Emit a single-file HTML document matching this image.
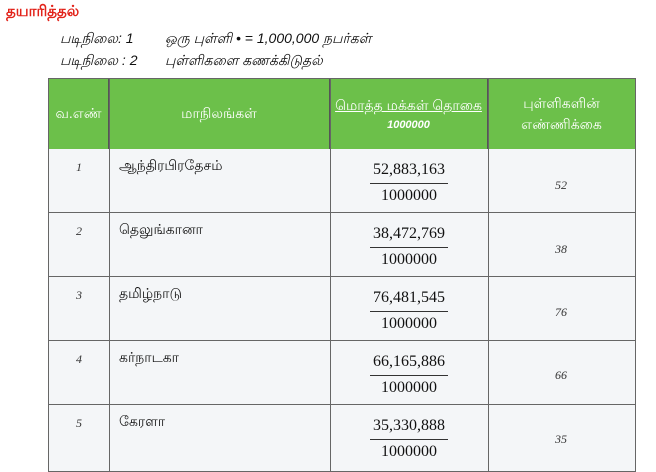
<!DOCTYPE html>
<html><head><meta charset="utf-8"><style>
body{margin:0;width:656px;height:472px;background:#fff;position:relative;font-family:"Liberation Sans","Noto Sans CJK SC",sans-serif;overflow:hidden}
.a{position:absolute;white-space:nowrap}
.hd{position:absolute;top:79px;height:70px;background:#6cc04a;color:#fff;font-size:14px;display:flex;align-items:center;justify-content:center;text-align:center;border-right:1px solid #555;box-sizing:border-box}
.row{position:absolute;left:48px;width:588px;height:64px;background:#f4f6f8;border-bottom:1px solid #666;box-sizing:border-box}
.v{position:absolute;top:0;bottom:0;width:1px;background:#666}
.n{font-family:"Liberation Serif",serif;font-style:italic;font-size:12px;color:#333}
.f{font-family:"Liberation Serif",serif;font-size:16px;color:#111;text-align:center;width:90px}
.s{font-size:14px;color:#111}
</style></head><body>
<div class="a" style="left:6px;top:3px;color:#e2231a;font-weight:bold;font-size:15px">தயாரித்தல்</div>
<div class="a" style="left:60px;top:30px;font-size:14px;font-style:italic;color:#111">படிநிலை: 1</div>
<div class="a" style="left:165px;top:30px;font-size:14px;font-style:italic;color:#111">ஒரு புள்ளி • = 1,000,000 நபர்கள்</div>
<div class="a" style="left:60px;top:52px;font-size:14px;font-style:italic;color:#111">படிநிலை : 2</div>
<div class="a" style="left:165px;top:52px;font-size:14px;font-style:italic;color:#111">புள்ளிகளை கணக்கிடுதல்</div>
<div style="position:absolute;left:48px;top:78px;width:588px;height:393px;border:1px solid #666;box-sizing:border-box"></div>
<div class="hd" style="left:48px;width:61px;border-left:1px solid #555">வ.எண்</div>
<div class="hd" style="left:109px;width:221px">மாநிலங்கள்</div>
<div class="hd" style="left:330px;width:158px;flex-direction:column"><span style="text-decoration:underline">மொத்த மக்கள் தொகை</span><span style="font-style:italic;font-size:11px;font-weight:bold;margin-top:3px">1000000</span></div>
<div class="hd" style="left:488px;width:148px;flex-direction:column;line-height:21px"><span>புள்ளிகளின்</span><span>எண்ணிக்கை</span></div>

<div class="row" style="top:149px"></div>
<div class="row" style="top:213px"></div>
<div class="row" style="top:277px"></div>
<div class="row" style="top:341px"></div>
<div class="row" style="top:405px;height:67px"></div>
<div class="v" style="left:48px;top:79px;height:393px"></div>
<div class="v" style="left:109px;top:79px;height:393px"></div>
<div class="v" style="left:330px;top:79px;height:393px"></div>
<div class="v" style="left:488px;top:79px;height:393px"></div>
<div class="v" style="left:635px;top:79px;height:393px"></div>

<div class="a n" style="left:76px;top:160px">1</div>
<div class="a s" style="left:119px;top:157px">ஆந்திரபிரதேசம்</div>
<div class="a f" style="left:364px;top:161px">52,883,163</div>
<div class="a" style="left:370px;top:183px;width:78px;height:1px;background:#333"></div>
<div class="a f" style="left:364px;top:187px">1000000</div>
<div class="a n" style="left:555px;top:178px">52</div>

<div class="a n" style="left:76px;top:224px">2</div>
<div class="a s" style="left:119px;top:221px">தெலுங்கானா</div>
<div class="a f" style="left:364px;top:225px">38,472,769</div>
<div class="a" style="left:370px;top:247px;width:78px;height:1px;background:#333"></div>
<div class="a f" style="left:364px;top:251px">1000000</div>
<div class="a n" style="left:555px;top:242px">38</div>

<div class="a n" style="left:76px;top:288px">3</div>
<div class="a s" style="left:119px;top:285px">தமிழ்நாடு</div>
<div class="a f" style="left:364px;top:289px">76,481,545</div>
<div class="a" style="left:370px;top:311px;width:78px;height:1px;background:#333"></div>
<div class="a f" style="left:364px;top:315px">1000000</div>
<div class="a n" style="left:555px;top:305px">76</div>

<div class="a n" style="left:76px;top:352px">4</div>
<div class="a s" style="left:119px;top:349px">கர்நாடகா</div>
<div class="a f" style="left:364px;top:353px">66,165,886</div>
<div class="a" style="left:370px;top:375px;width:78px;height:1px;background:#333"></div>
<div class="a f" style="left:364px;top:379px">1000000</div>
<div class="a n" style="left:555px;top:368px">66</div>

<div class="a n" style="left:76px;top:416px">5</div>
<div class="a s" style="left:119px;top:413px">கேரளா</div>
<div class="a f" style="left:364px;top:417px">35,330,888</div>
<div class="a" style="left:370px;top:439px;width:78px;height:1px;background:#333"></div>
<div class="a f" style="left:364px;top:443px">1000000</div>
<div class="a n" style="left:555px;top:432px">35</div>
</body></html>
